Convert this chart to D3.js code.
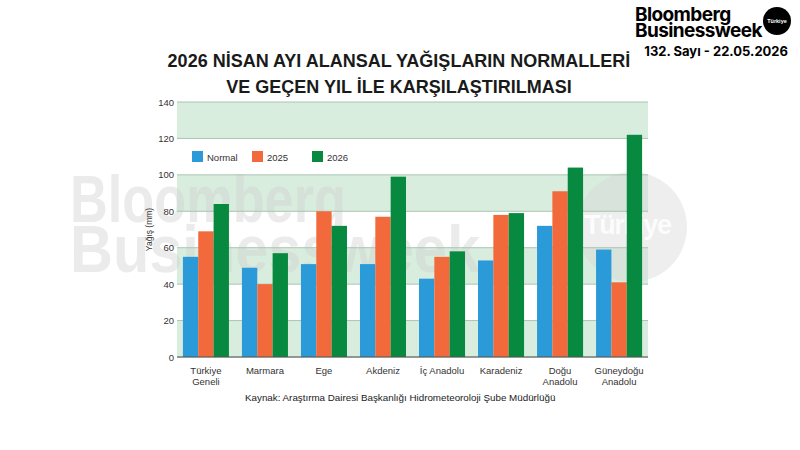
<!DOCTYPE html>
<html>
<head>
<meta charset="utf-8">
<script src="https://cdn.jsdelivr.net/npm/d3@7"></script>
<style>
  body { margin: 0; background: #fff; }
  svg { display: block; font-family: "Liberation Sans", Arial, sans-serif; }
</style>
</head>
<body>
<svg id="chart" width="800" height="450"></svg>
<script>
// data
const regions = [["Türkiye", "Geneli"], ["Marmara"], ["Ege"], ["Akdeniz"], ["İç Anadolu"], ["Karadeniz"], ["Doğu", "Anadolu"], ["Güneydoğu", "Anadolu"]];
const seriesNames = ["Normal", "2025", "2026"];
const normal = [55, 49, 51, 51, 43, 53, 72, 59];
const y2025 = [69, 40, 80, 77, 55, 78, 91, 41];
const y2026 = [84, 57, 72, 99, 58, 79, 104, 122];
const yTicks = [0, 20, 40, 60, 80, 100, 120, 140];
const colors = ["#2b9ad8", "#f26a3b", "#078a3f"];

const svg = d3.select("#chart");
const plotL = 177, plotR = 648, plotT = 102, plotB = 357;

const x = d3.scaleBand().domain(d3.range(regions.length)).range([plotL, plotR])
    .paddingInner(0.22).paddingOuter(0.1);
const xs = d3.scaleBand().domain(seriesNames).range([0, x.bandwidth()]);
const y = d3.scaleLinear().domain([0, 140]).range([plotB, plotT]);

// header
svg.append("text").attr("x", 635).attr("y", 21).attr("font-size", 19).attr("font-weight", "bold")
    .attr("font-family", "Inter, 'Liberation Sans', sans-serif").attr("letter-spacing", -0.6).text("Bloomberg");
svg.append("text").attr("x", 635).attr("y", 37).attr("font-size", 19).attr("font-weight", "bold")
    .attr("font-family", "Inter, 'Liberation Sans', sans-serif").attr("letter-spacing", -0.6).text("Businessweek");
svg.append("circle").attr("cx", 777).attr("cy", 21).attr("r", 14).attr("fill", "#000");
svg.append("text").attr("x", 777).attr("y", 23).attr("text-anchor", "middle").attr("font-size", 5.5)
    .attr("font-weight", "bold").attr("fill", "#fff").text("Türkiye");
svg.append("text").attr("x", 788).attr("y", 56).attr("text-anchor", "end").attr("font-size", 13)
    .attr("font-weight", "bold").attr("font-family", "Inter, 'Liberation Sans', sans-serif").text("132. Sayı - 22.05.2026");

// title
svg.append("text").attr("x", 399).attr("y", 67).attr("text-anchor", "middle").attr("font-size", 18)
    .attr("font-weight", "bold").attr("fill", "#1a1a1a").text("2026 NİSAN AYI ALANSAL YAĞIŞLARIN NORMALLERİ");
svg.append("text").attr("x", 399).attr("y", 93).attr("text-anchor", "middle").attr("font-size", 18)
    .attr("font-weight", "bold").attr("fill", "#1a1a1a").text("VE GEÇEN YIL İLE KARŞILAŞTIRILMASI");

// alternating bands
const bands = yTicks.slice(0, -1).filter((d, i) => i % 2 === 0);
svg.append("g").selectAll("rect").data(bands).join("rect")
    .attr("x", plotL).attr("width", plotR - plotL)
    .attr("y", d => y(d + 20)).attr("height", d => y(d) - y(d + 20))
    .attr("fill", "#d9eddf");

// watermark
const wm = svg.append("g").attr("fill", "#cfcfcf").attr("opacity", 0.4)
    .attr("font-weight", "bold").attr("font-size", 66);
wm.append("text").attr("x", 70).attr("y", 222).attr("textLength", 276)
    .attr("lengthAdjust", "spacingAndGlyphs").text("Bloomberg");
wm.append("text").attr("x", 70).attr("y", 272).attr("textLength", 410)
    .attr("lengthAdjust", "spacingAndGlyphs").text("Businessweek");
svg.append("circle").attr("cx", 632).attr("cy", 227).attr("r", 55).attr("fill", "#d4d4d4").attr("opacity", 0.4);
svg.append("text").attr("x", 584).attr("y", 234).attr("font-size", 27).attr("textLength", 88)
    .attr("font-weight", "bold").attr("fill", "#fff").attr("opacity", 0.85).text("Türkiye");

// grid
svg.append("g").selectAll("line").data(yTicks).join("line")
    .attr("x1", plotL).attr("x2", plotR).attr("y1", d => y(d)).attr("y2", d => y(d))
    .attr("stroke", "#aac4b2").attr("stroke-width", 1);

// y axis
const yAxis = svg.append("g").attr("transform", `translate(${plotL},0)`)
    .call(d3.axisLeft(y).tickValues(yTicks).tickSize(0).tickPadding(3));
yAxis.select(".domain").remove();
yAxis.selectAll("text").attr("font-size", 9.5).attr("fill", "#333").attr("font-family", "'Liberation Sans', Arial, sans-serif");

svg.append("text").attr("transform", `translate(152,${y(70)}) rotate(-90)`).attr("text-anchor", "middle")
    .attr("font-size", 8.5).attr("fill", "#333").text("Yağış (mm)");

// bars
const series = [normal, y2025, y2026];
svg.append("g").selectAll("g").data(series).join("g")
    .attr("fill", (d, i) => colors[i])
    .each(function (vals, si) {
      d3.select(this).selectAll("rect").data(vals).join("rect")
        .attr("x", (d, i) => x(i) + xs(seriesNames[si]))
        .attr("width", xs.bandwidth())
        .attr("y", d => y(d))
        .attr("height", d => y(0) - y(d));
    });

// baseline
svg.append("line").attr("x1", plotL).attr("x2", plotR).attr("y1", y(0)).attr("y2", y(0))
    .attr("stroke", "#555").attr("stroke-width", 1);

// x labels
const xl = svg.append("g").selectAll("text").data(regions).join("text")
    .attr("x", (d, i) => x(i) + x.bandwidth() / 2).attr("y", 374)
    .attr("text-anchor", "middle").attr("font-size", 9.5).attr("fill", "#333");
xl.selectAll("tspan").data(d => d).join("tspan")
    .attr("x", function () { return d3.select(this.parentNode).attr("x"); })
    .attr("dy", (d, i) => i === 0 ? 0 : 11).text(d => d);

// legend
const lg = svg.append("g").selectAll("g").data(seriesNames).join("g")
    .attr("transform", (d, i) => `translate(${192 + i * 60},151)`);
lg.append("rect").attr("width", 11).attr("height", 11).attr("fill", (d, i) => colors[i]);
lg.append("text").attr("x", 15).attr("y", 9.5).attr("font-size", 9.5).attr("fill", "#333").text(d => d);

// source
svg.append("text").attr("x", 245).attr("y", 401).attr("font-size", 9.8).attr("fill", "#222")
    .text("Kaynak: Araştırma Dairesi Başkanlığı Hidrometeoroloji Şube Müdürlüğü");
</script>
</body>
</html>
